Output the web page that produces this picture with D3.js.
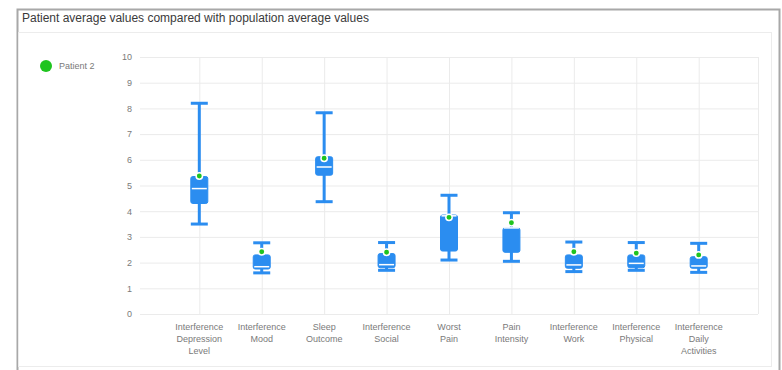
<!DOCTYPE html>
<html>
<head>
<meta charset="utf-8">
<script src="https://cdn.jsdelivr.net/npm/d3@7"></script>
<style>
  html, body { margin: 0; padding: 0; background: #fff; }
  svg { display: block; font-family: "Liberation Sans", Arial, sans-serif; }
  .ax-text { fill: #7a7a7a; font-size: 9px; }
</style>
</head>
<body>
<div id="chart"></div>
<script>
const categories= [
  ['Interference', 'Depression', 'Level'],
  ['Interference', 'Mood'],
  ['Sleep', 'Outcome'],
  ['Interference', 'Social'],
  ['Worst', 'Pain'],
  ['Pain', 'Intensity'],
  ['Interference', 'Work'],
  ['Interference', 'Physical'],
  ['Interference', 'Daily', 'Activities'],
];
const whiskerLow=  [3.5, 1.6, 4.37, 1.7, 2.1, 2.05, 1.65, 1.7, 1.62];
const q1=          [4.3, 1.75, 5.4, 1.8, 2.45, 2.4, 1.78, 1.8, 1.78];
const median=      [4.88, 1.84, 5.72, 1.92, 3.82, 3.35, 1.91, 1.97, 1.87];
const q3=          [5.35, 2.3, 6.12, 2.35, 3.85, 3.35, 2.3, 2.3, 2.23];
const whiskerHigh= [8.2, 2.77, 7.83, 2.78, 4.62, 3.94, 2.8, 2.78, 2.75];
const patient=     [5.37, 2.42, 6.06, 2.4, 3.76, 3.55, 2.42, 2.37, 2.3];
const yTicks= [0, 1, 2, 3, 4, 5, 6, 7, 8, 9, 10];

const W= 782, H= 370;
const PLOT= { left: 140, right: 758, top: 57, bottom: 314 };
const BLUE= '#2b8df0', GREEN= '#1fc41f';

const svg= d3.select('#chart').append('svg')
  .attr('width', W).attr('height', H);

// outer frame and inner panel
svg.append('rect')
  .attr('x', 17.5).attr('y', 9.5).attr('width', 762).attr('height', 370)
  .attr('fill', '#fff').attr('stroke', '#a8a8a8').attr('stroke-width', 2);
svg.append('rect')
  .attr('x', 18.5).attr('y', 32.5).attr('width', 753).attr('height', 334)
  .attr('fill', '#fff').attr('stroke', '#ececec').attr('stroke-width', 1);

svg.append('text')
  .attr('x', 22).attr('y', 22)
  .attr('fill', '#3a3a3a').attr('font-size', 12)
  .text('Patient average values compared with population average values');

// legend
svg.append('circle')
  .attr('cx', 46).attr('cy', 66).attr('r', 6).attr('fill', GREEN);
svg.append('text')
  .attr('x', 59).attr('y', 69)
  .attr('class', 'ax-text')
  .text('Patient 2');

const idx= d3.range(categories.length);
const xSc= d3.scalePoint().domain(idx).range([PLOT.left, PLOT.right]).padding(0.95);
const ySc= d3.scaleLinear().domain([0, 10]).range([PLOT.bottom, PLOT.top]);

const g= svg.append('g');

// grid
g.selectAll(null).data(yTicks).join('line')
  .attr('x1', PLOT.left).attr('x2', PLOT.right)
  .attr('y1', d => ySc(d)+0.5).attr('y2', d => ySc(d)+0.5)
  .attr('stroke', '#ebebeb');
g.selectAll(null).data(idx).join('line')
  .attr('x1', d => xSc(d)+0.5).attr('x2', d => xSc(d)+0.5)
  .attr('y1', PLOT.top).attr('y2', PLOT.bottom)
  .attr('stroke', '#ebebeb');
g.append('line')
  .attr('x1', PLOT.right+0.5).attr('x2', PLOT.right+0.5)
  .attr('y1', PLOT.top).attr('y2', PLOT.bottom)
  .attr('stroke', '#ebebeb');

// y axis
const yAx= svg.append('g')
  .attr('transform', `translate(${PLOT.left-8},0)`)
  .call(d3.axisLeft(ySc).tickValues(yTicks).tickSize(0).tickPadding(0))
  .call(a => a.select('.domain').remove());
yAx.selectAll('text').attr('class', 'ax-text').attr('dy', '0.32em').attr('font-family', null).attr('font-size', null);

// x labels
const xl= svg.append('g').selectAll(null).data(idx).join('text')
  .attr('class', 'ax-text')
  .attr('text-anchor', 'middle')
  .attr('x', d => xSc(d))
  .attr('y', 330);
xl.selectAll('tspan').data(d => categories[d].map(t => ({ t, x: xSc(d) }))).join('tspan')
  .attr('x', d => d.x)
  .attr('dy', (d, i) => i === 0 ? 0 : 12)
  .text(d => d.t);

// box plots
const BW= 17;
idx.forEach(i => {
  const x= xSc(i);
  const bx= g.append('g');
  bx.append('line')
    .attr('x1', x).attr('x2', x)
    .attr('y1', ySc(whiskerHigh[i])).attr('y2', ySc(whiskerLow[i]))
    .attr('stroke', BLUE).attr('stroke-width', 3);
  [whiskerHigh[i], whiskerLow[i]].forEach(v => {
    bx.append('line')
      .attr('x1', x-BW/2).attr('x2', x+BW/2)
      .attr('y1', ySc(v)).attr('y2', ySc(v))
      .attr('stroke', BLUE).attr('stroke-width', 3);
  });
  bx.append('rect')
    .attr('x', x-BW/2).attr('y', ySc(q3[i]))
    .attr('width', BW).attr('height', ySc(q1[i])-ySc(q3[i]))
    .attr('rx', 2)
    .attr('fill', BLUE).attr('stroke', BLUE).attr('stroke-width', 1);
  bx.append('line')
    .attr('x1', x-BW/2+1).attr('x2', x+BW/2-1)
    .attr('y1', ySc(median[i])).attr('y2', ySc(median[i]))
    .attr('stroke', '#fff').attr('stroke-width', 1.5);
  bx.append('circle')
    .attr('cx', x).attr('cy', ySc(patient[i]))
    .attr('r', 3.2)
    .attr('fill', GREEN).attr('stroke', '#fff').attr('stroke-width', 1.5);
});
</script>
</body>
</html>
